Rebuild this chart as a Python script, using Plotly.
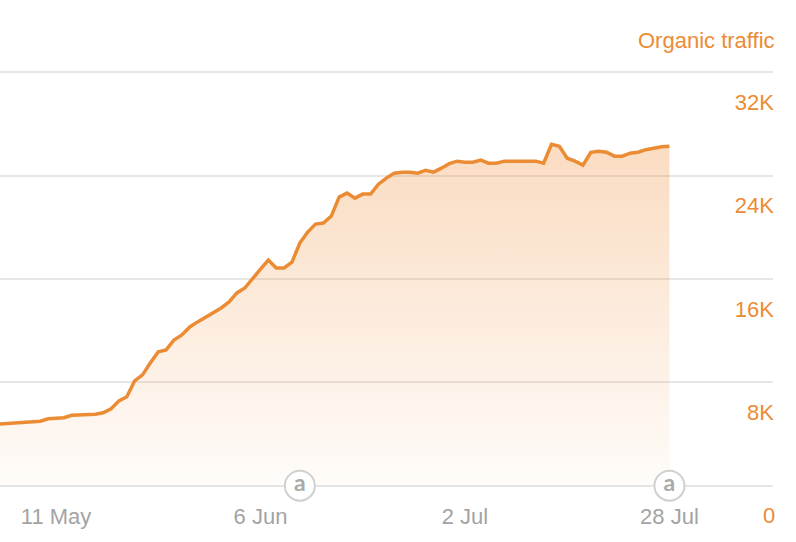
import pandas as pd
import plotly.graph_objects as go

# Daily organic traffic, 3 May – 28 Jul
dates = pd.date_range("2023-05-03", "2023-07-28", freq="D")
traffic = [
    4750, 4790, 4790, 4830, 4870, 4910, 4990, 5180, 5220, 5260,
    5450, 5490, 5490, 5530, 5640, 5950, 6570, 6880, 8120, 8580,
    9510, 10360, 10510, 11280, 11670, 12290, 12680, 13020, 13370, 13760,
    14220, 14920, 15300, 16080, 16770, 17470, 16850, 16850, 17310, 18780,
    19630, 20250, 20330, 20870, 22340, 22650, 22260, 22570, 22570, 23340,
    23810, 24190, 24270, 24270, 24190, 24420, 24270, 24580, 24930, 25120,
    25040, 25040, 25200, 24960, 24960, 25120, 25120, 25120, 25120, 25120,
    24960, 26430, 26280, 25350, 25120, 24810, 25810, 25890, 25810, 25510,
    25510, 25740, 25810, 26010, 26120, 26240, 26280,
]

x_tick_vals = ["2023-05-11", "2023-06-06", "2023-07-02", "2023-07-28"]
x_tick_text = ["11 May", "6 Jun", "2 Jul", "28 Jul"]
y_tick_vals = [0, 8000, 16000, 24000, 32000]
y_tick_text = ["0", "8K", "16K", "24K", "32K"]

annot_dates = ["2023-06-11", "2023-07-28"]
annot_vals = [0, 0]
annot_text = ["a", "a"]

ORANGE = "#EB8C35"
FONT = "Liberation Sans, Arial, sans-serif"

fig = go.Figure()
fig.add_trace(go.Scatter(
    x=dates, y=traffic, mode="lines",
    line=dict(color=ORANGE, width=3.5),
    fill="tozeroy",
    fillgradient=dict(
        type="vertical", start=0, stop=32000,
        colorscale=[[0, "rgba(240,150,70,0.03)"], [1, "rgba(240,150,70,0.40)"]],
    ),
    hoverinfo="skip", showlegend=False,
))
fig.add_trace(go.Scatter(
    x=annot_dates, y=annot_vals, mode="markers+text",
    marker=dict(size=30, color="white", line=dict(color="#d0d0d0", width=2)),
    text=annot_text, textposition="middle center",
    textfont=dict(family="Lato, " + FONT, size=23, color="#a9a9a9", weight="bold"),
    cliponaxis=False, hoverinfo="skip", showlegend=False,
))

fig.update_layout(
    width=796, height=542,
    margin=dict(l=0, r=23, t=71, b=55),
    paper_bgcolor="white", plot_bgcolor="white",
    font=dict(family=FONT),
    xaxis=dict(
        range=["2023-05-03 21:00", "2023-08-10 04:00"],
        tickvals=x_tick_vals, ticktext=x_tick_text,
        tickfont=dict(size=22, color="#a3a3a3"),
        ticklabelstandoff=14,
        showgrid=False, zeroline=False, showline=False, ticks="",
    ),
    yaxis=dict(
        range=[-100, 32100], side="right",
        tickvals=y_tick_vals, ticktext=y_tick_text,
        tickfont=dict(size=22, color=ORANGE),
        ticklabelposition="inside", ticklabelshift=30, ticklabelstandoff=-4,
        showgrid=True, gridcolor="#e6e6e6", gridwidth=1.5,
        zeroline=False, showline=False, ticks="",
    ),
    annotations=[
        dict(
            text="Organic traffic", xref="paper", yref="paper",
            x=1, y=1.0745, xanchor="right", yanchor="middle", showarrow=False,
            xshift=4, font=dict(size=22, color=ORANGE),
        ),
        # the "0" tick label sits below the plot area, so it is placed as text
        dict(
            text=y_tick_text[0], xref="paper", yref="y",
            x=1, y=y_tick_vals[0], xanchor="right", yanchor="middle",
            yshift=-30, xshift=4, showarrow=False,
            font=dict(size=22, color=ORANGE),
        ),
    ],
)

fig.write_html(
    "out.html",
    config={"displayModeBar": False},
    post_script="document.body.style.margin='0px';",
)
